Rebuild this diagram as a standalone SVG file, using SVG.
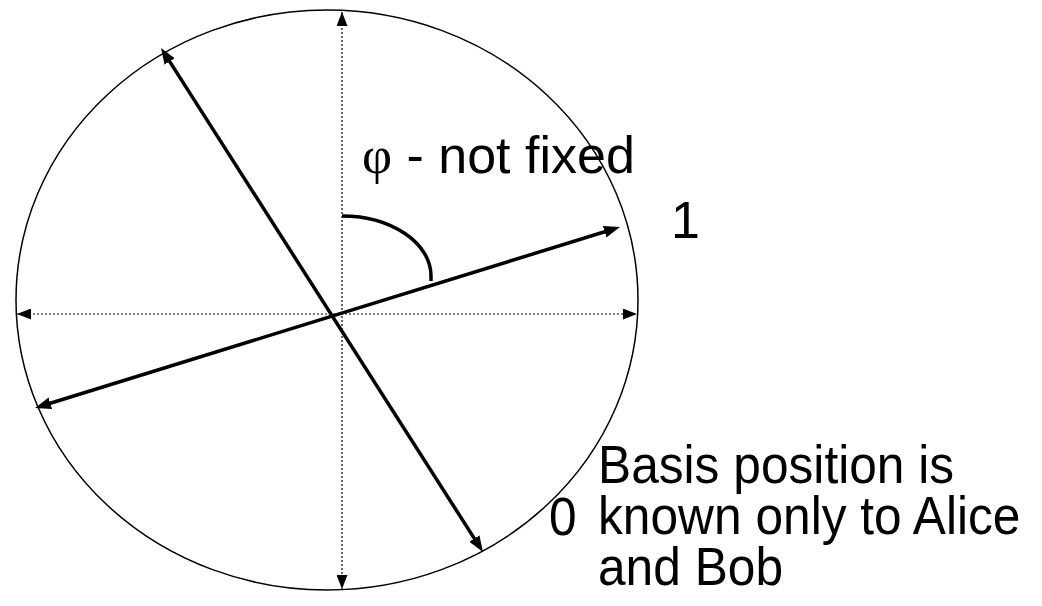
<svg xmlns="http://www.w3.org/2000/svg" width="1042" height="606" viewBox="0 0 1042 606">
  <style>
    .txt { font-family: "Liberation Sans", Arial, sans-serif; font-size: 52px; fill: #000; }
    .big { font-size: 54px; }
    .greek { font-family: "Liberation Serif", "Times New Roman", serif; }
    .thick { stroke: #000; stroke-width: 3.5; fill: none; }
    .dotted { stroke: #000; stroke-width: 1.2; stroke-dasharray: 2 2; fill: none; }
  </style>
  <defs>
    <marker id="bigArrow" markerUnits="userSpaceOnUse" markerWidth="16" markerHeight="12" refX="6" refY="6" orient="auto-start-reverse">
      <path d="M0,0 L16,6 L0,12 z" fill="#000"/>
    </marker>
    <marker id="smallArrow" markerUnits="userSpaceOnUse" markerWidth="14" markerHeight="11" refX="14" refY="5.5" orient="auto-start-reverse">
      <path d="M0,0 L14,5.5 L0,11 z" fill="#000"/>
    </marker>
  </defs>
  <rect width="1042" height="606" fill="#fff"/>

  <g id="circle">
    <ellipse cx="327" cy="300" rx="311" ry="290" fill="none" stroke="#000" stroke-width="1.5"/>
  </g>

  <g id="connectors">
    <line class="dotted" x1="342" y1="12" x2="342" y2="589" marker-start="url(#smallArrow)" marker-end="url(#smallArrow)"/>
    <line class="dotted" x1="17" y1="314" x2="637" y2="314" marker-start="url(#smallArrow)" marker-end="url(#smallArrow)"/>
    <line class="thick" x1="44.6" y1="405" x2="610.4" y2="230" marker-start="url(#bigArrow)" marker-end="url(#bigArrow)"/>
    <line class="thick" x1="166.4" y1="56.4" x2="477.6" y2="543.6" marker-start="url(#bigArrow)" marker-end="url(#bigArrow)"/>
    <path class="thick" d="M342,216 A89,60 0 0 1 431,276 L431,281"/>
  </g>

  <g id="label-phi">
    <text class="txt" x="362" y="173"><tspan class="greek">φ</tspan> - not fixed</text>
  </g>
  <g id="label-1">
    <text class="txt" x="671" y="238">1</text>
  </g>
  <g id="label-0" transform="translate(549,0) scale(0.92,1)">
    <text class="txt big" x="0" y="535">0</text>
  </g>
  <g id="label-basis" transform="translate(598,0) scale(0.92,1)">
    <text class="txt big" x="0" y="483">Basis position is</text>
    <text class="txt big" x="0" y="534">known only to Alice</text>
    <text class="txt big" x="0" y="585">and Bob</text>
  </g>
</svg>
